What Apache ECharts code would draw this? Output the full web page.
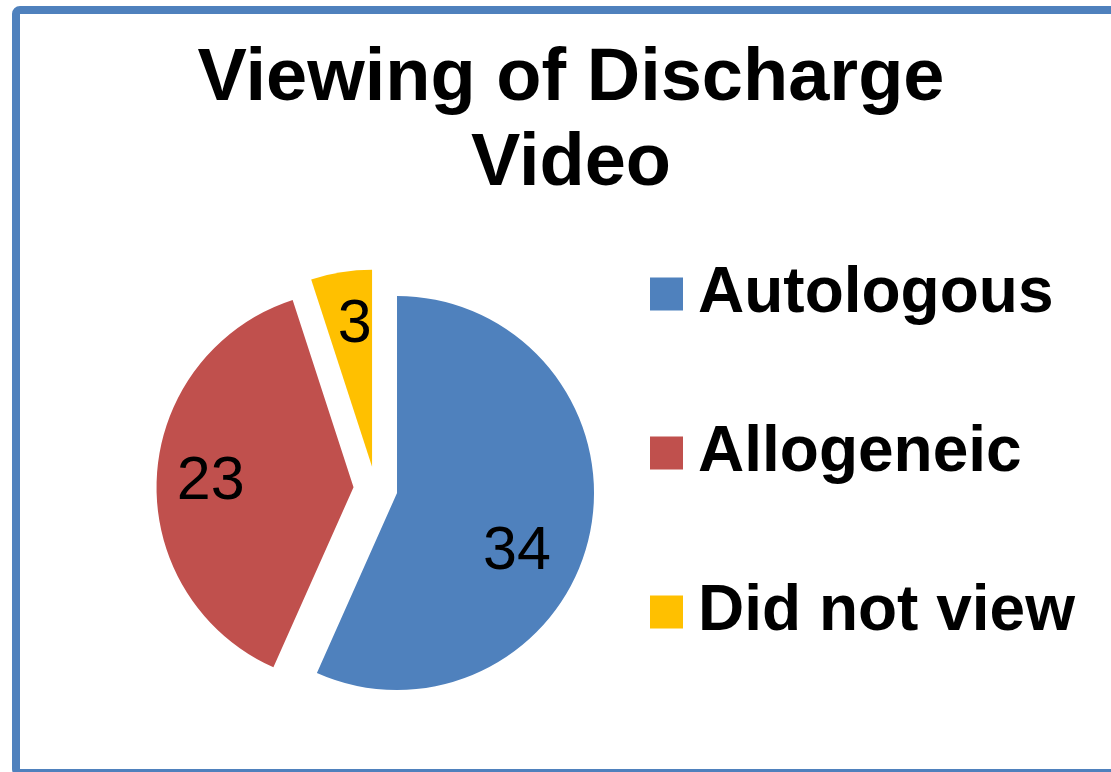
<!DOCTYPE html>
<html>
<head>
<meta charset="utf-8">
<title>Viewing of Discharge Video</title>
<script src="https://cdn.jsdelivr.net/npm/echarts@6/dist/echarts.min.js"></script>
<style>
  html, body { margin: 0; padding: 0; background: #fff; }
  #chart { width: 1111px; height: 772px; }
</style>
</head>
<body>
<div id="chart"></div>
<script>
const titleText = "Viewing of Discharge\nVideo";
const categories = ["Autologous", "Allogeneic", "Did not view"];
const counts = [34, 23, 3];
const colors = ["#4F81BD", "#C0504D", "#FFC000"];
// small nudges so the labels sit where excel's "best fit" put them
const labelNudge = [[-20, 29], [0, 2], [5, 0]];

const chart = echarts.init(document.getElementById("chart"));

const pieData = categories.map((name, i) => ({
  name: name,
  value: counts[i],
  selected: true,
  itemStyle: { color: colors[i] },
}));

const option = {
  animation: false,
  title: {
    text: titleText,
    left: 566,
    top: 32,
    textAlign: "center",
    textStyle: {
      fontFamily: "Liberation Sans",
      fontWeight: "bold",
      fontSize: 74,
      lineHeight: 85,
      color: "#000",
    },
  },
  legend: {
    orient: "vertical",
    left: 645,
    top: 257,
    itemWidth: 33,
    itemHeight: 33,
    itemGap: 95,
    icon: "rect",
    selectedMode: false,
    data: categories,
    textStyle: {
      fontFamily: "Liberation Sans",
      fontWeight: "bold",
      fontSize: 64,
      color: "#000",
      padding: [0, 0, 0, 10],
    },
  },
  graphic: [
    {
      type: "rect",
      shape: { x: 16, y: 10, width: 1110, height: 763, r: 4 },
      style: { fill: "none", stroke: "#4F81BD", lineWidth: 8 },
      silent: true,
    },
  ],
  series: [
    {
      name: "slices",
      type: "pie",
      center: [375.5, 488.5],
      radius: [0, 197],
      startAngle: 90,
      clockwise: true,
      selectedMode: "multiple",
      selectedOffset: 22,
      avoidLabelOverlap: false,
      label: { show: false },
      labelLine: { show: false },
      emphasis: { disabled: true },
      data: pieData,
    },
    {
      name: "labels",
      type: "pie",
      silent: true,
      center: [375.5, 488.5],
      radius: [83, 197],
      startAngle: 90,
      clockwise: true,
      selectedMode: "multiple",
      selectedOffset: 22,
      avoidLabelOverlap: false,
      itemStyle: { color: "rgba(0,0,0,0)" },
      label: {
        show: true,
        position: "inside",
        formatter: "{c}",
        fontFamily: "Liberation Sans",
        fontSize: 61,
        color: "#000",
      },
      labelLine: { show: false },
      labelLayout: function (params) {
        const n = labelNudge[params.dataIndex] || [0, 0];
        return { dx: n[0], dy: n[1] };
      },
      emphasis: { disabled: true },
      data: pieData.map((d) => ({ name: d.name, value: d.value, selected: true })),
    },
  ],
};

chart.setOption(option);
</script>
</body>
</html>
